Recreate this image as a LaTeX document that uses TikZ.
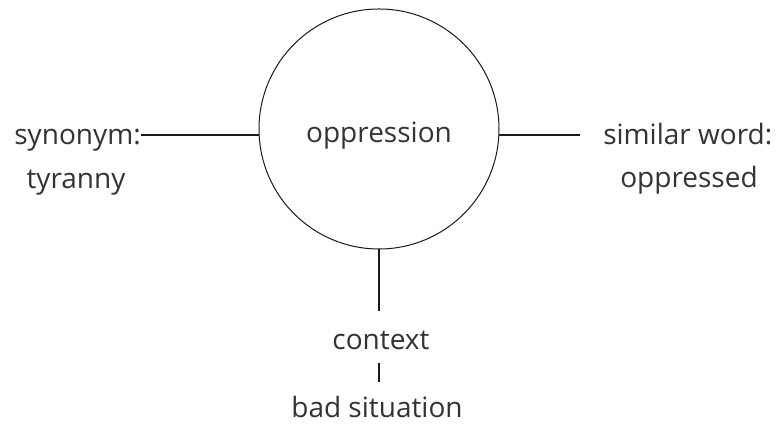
\documentclass[tikz,border=0pt]{standalone}
\usepackage{fontspec}
\setmainfont{Open Sans}
\usetikzlibrary{positioning}
\definecolor{map-text}{HTML}{333333}
\definecolor{map-line}{HTML}{1A1A1A}

\begin{document}
\begin{tikzpicture}[x=0.75pt, y=0.75pt,
    wordtext/.style={text=map-text, font=\fontsize{21}{25}\selectfont, inner sep=0pt},
    link/.style={map-line, line width=1.3pt}]

    \useasboundingbox (0,0) rectangle (783,427);

    % Central word
    \node[circle, draw=map-line, line width=0.75pt, minimum size=180pt, wordtext,
          text height=21pt, text depth=0pt] (word) at (379,298) {oppression};

    % Left: synonym
    \node[wordtext, anchor=base east] (syn) at (141,282) {synonym:};
    \node[wordtext, anchor=base] (tyr) at (76,238) {tyranny};

    % Right: similar word
    \node[wordtext, anchor=base west] (sim) at (603,282) {similar word:};
    \node[wordtext, anchor=base] (opd) at (689,239) {oppressed};

    % Bottom: context
    \node[wordtext, anchor=base] (ctx) at (381,77) {context};
    \node[wordtext, anchor=base] (sit) at (377,9) {bad situation};

    % Connectors
    \draw[link] (word.183) -- (word.183 -| syn.east);
    \draw[link, shorten >=17pt] (word.-3) -- (word.-3 -| sim.west);
    \draw[link, shorten >=15pt] (word.south) -- (word.south |- ctx.north);
    \draw[link, shorten <=9pt, shorten >=10.5pt] (word.south |- ctx.south) -- (word.south |- sit.north);
\end{tikzpicture}
\end{document}
